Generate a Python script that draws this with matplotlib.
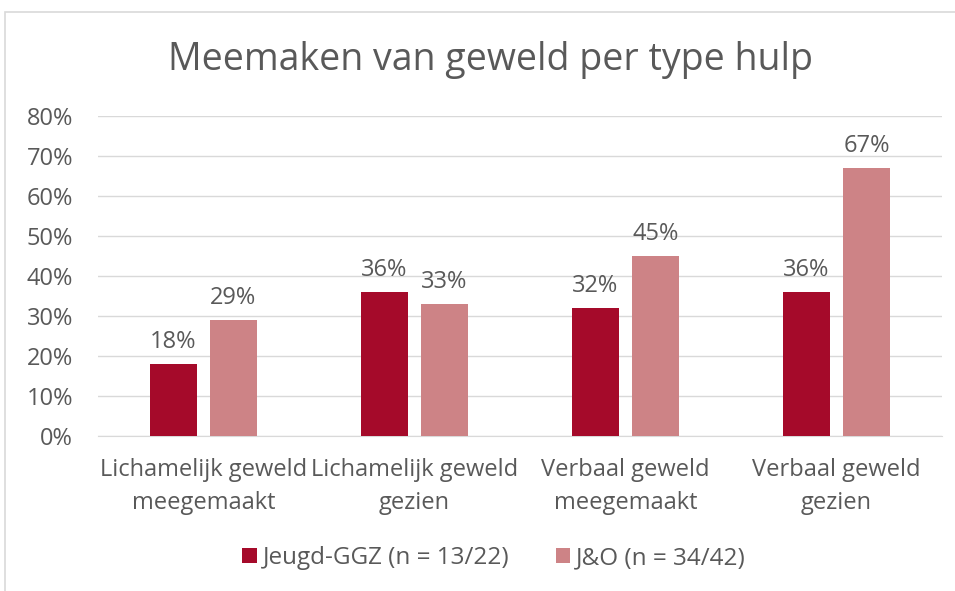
import matplotlib.pyplot as plt
import numpy as np
from matplotlib.patches import Rectangle

plt.rcParams['font.family'] = ['Open Sans', 'DejaVu Sans']

categories = ["Lichamelijk geweld\nmeegemaakt", "Lichamelijk geweld\ngezien",
              "Verbaal geweld\nmeegemaakt", "Verbaal geweld\ngezien"]
jeugd_ggz = [18, 36, 32, 36]
jo = [29, 33, 45, 67]
series_names = ["Jeugd-GGZ (n = 13/22)", "J&O (n = 34/42)"]
yticks = [0, 10, 20, 30, 40, 50, 60, 70, 80]

text_col = "#595959"
fig = plt.figure(figsize=(9.55, 5.91), dpi=100)
fig.patches.append(Rectangle((5 / 955, -0.1), 2, 1.1 - 12 / 591, transform=fig.transFigure,
                             fill=False, edgecolor="#d9d9d9", linewidth=1.2))
ax = fig.add_axes([98 / 955, 1 - 436 / 591, 844 / 955, 320 / 591])

x = np.arange(len(categories))
w = 0.223
off = 0.142
b1 = ax.bar(x - off, jeugd_ggz, w, color="#A50A2A", label=series_names[0], zorder=3)
b2 = ax.bar(x + off, jo, w, color="#CD8386", label=series_names[1], zorder=3)
for bars in (b1, b2):
    ax.bar_label(bars, labels=[f"{v}%" for v in bars.datavalues], padding=7,
                 fontsize=17, color=text_col)

ax.set_xlim(-0.5, 3.5)
ax.set_ylim(0, 80)
ax.set_yticks(yticks)
ax.set_yticklabels([f"{t}%" for t in yticks])
ax.set_xticks(x)
ax.set_xticklabels(categories, fontsize=17, color=text_col, linespacing=1.5)
ax.tick_params(axis="y", labelsize=17, labelcolor=text_col, length=0, pad=18)
ax.tick_params(axis="x", length=0, pad=16)
ax.grid(axis="y", color="#d9d9d9", linewidth=1, zorder=0)
for s in ["top", "right", "left"]:
    ax.spines[s].set_visible(False)
ax.spines["bottom"].set_color("#d9d9d9")

fig.text(490 / 955, 1 - 60 / 591, "Meemaken van geweld per type hulp", ha="center", va="center",
         fontsize=27, color=text_col)
fig.legend(loc="center", bbox_to_anchor=(494 / 955, 1 - 558 / 591), ncol=2, frameon=False,
           fontsize=17.5, labelcolor=text_col, handlelength=0.6, handleheight=0.6,
           handletextpad=0.25, columnspacing=1.9)

fig.savefig("out.png", dpi=100)
